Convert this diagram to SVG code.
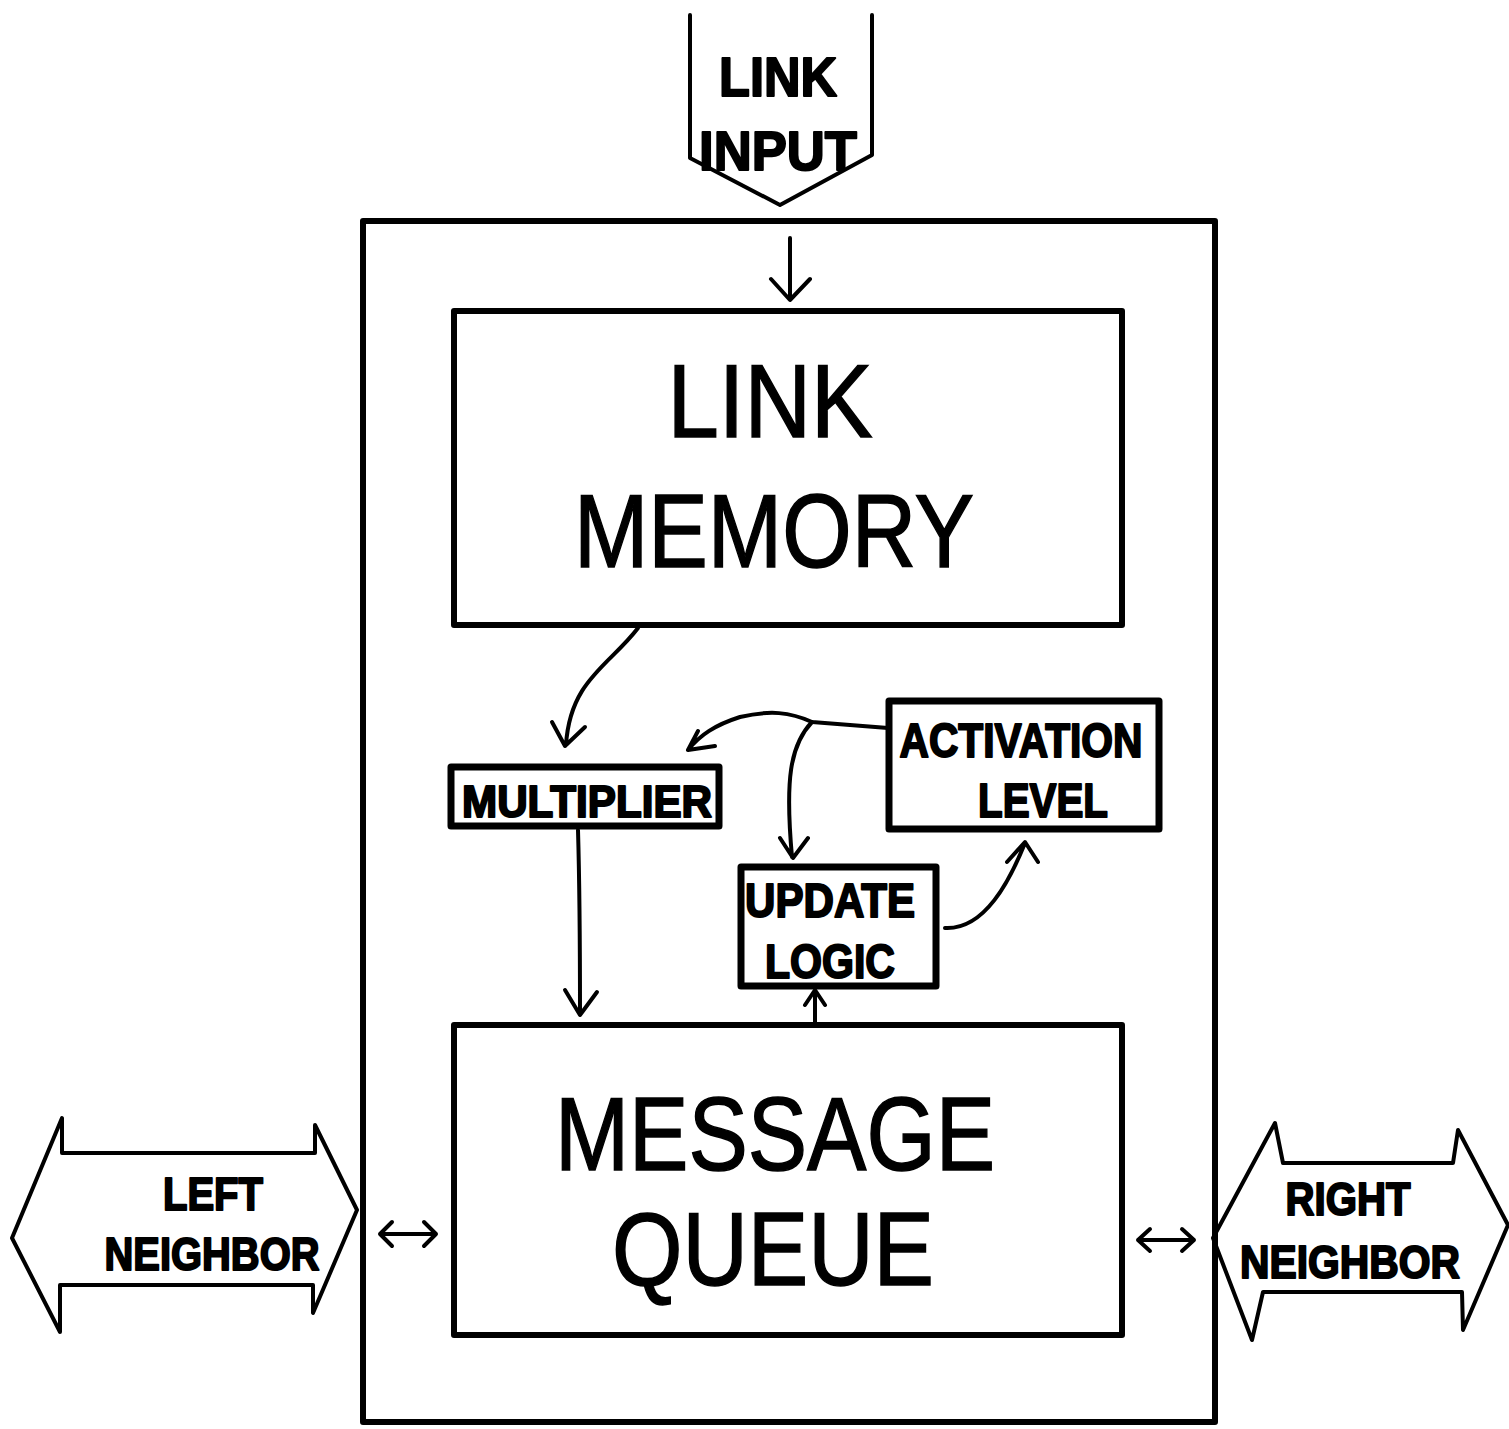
<svg xmlns="http://www.w3.org/2000/svg" width="1509" height="1429" viewBox="0 0 1509 1429">
<style>
.box{fill:none;stroke:#000;stroke-width:6;stroke-linejoin:round}
.sm{fill:none;stroke:#000;stroke-width:7;stroke-linejoin:round}
.ln{fill:none;stroke:#000;stroke-width:4;stroke-linecap:round;stroke-linejoin:round}
.big{font-family:"Liberation Sans",Arial,sans-serif;font-size:104px;fill:#000;stroke:#000;stroke-width:1.5;text-anchor:middle}
.bold{font-family:"Liberation Sans",Arial,sans-serif;font-weight:bold;fill:#000;stroke:#000;stroke-width:2;stroke-linejoin:round;text-anchor:middle}
</style>
<rect width="1509" height="1429" fill="#fff"/>
<g id="container"><rect class="box" x="363" y="221" width="852" height="1201"/></g>
<g id="link-input">
<path class="ln" d="M690,15 V158 L780,205 L872,155 V15"/>
<text class="bold" x="778" y="96" font-size="56" textLength="118" lengthAdjust="spacingAndGlyphs">LINK</text>
<text class="bold" x="778" y="170" font-size="56" textLength="158" lengthAdjust="spacingAndGlyphs">INPUT</text>
</g>
<g id="link-memory">
<rect class="box" x="454" y="311" width="668" height="314"/>
<text class="big" x="770" y="437" textLength="205" lengthAdjust="spacingAndGlyphs">LINK</text>
<text class="big" x="774" y="567" textLength="400" lengthAdjust="spacingAndGlyphs">MEMORY</text>
</g>
<g id="message-queue">
<rect class="box" x="454" y="1025" width="668" height="310"/>
<text class="big" x="775" y="1170" textLength="440" lengthAdjust="spacingAndGlyphs">MESSAGE</text>
<text class="big" x="773" y="1285" textLength="322" lengthAdjust="spacingAndGlyphs">QUEUE</text>
</g>
<g id="multiplier">
<rect class="sm" x="451" y="767" width="268" height="59"/>
<text class="bold" x="587" y="817" font-size="44" textLength="250" lengthAdjust="spacingAndGlyphs">MULTIPLIER</text>
</g>
<g id="activation-level">
<rect class="sm" x="889" y="701" width="270" height="128"/>
<text class="bold" x="1021" y="757" font-size="48" textLength="243" lengthAdjust="spacingAndGlyphs">ACTIVATION</text>
<text class="bold" x="1043" y="817" font-size="48" textLength="130" lengthAdjust="spacingAndGlyphs">LEVEL</text>
</g>
<g id="update-logic">
<rect class="sm" x="741" y="867" width="195" height="119"/>
<text class="bold" x="830" y="917" font-size="48" textLength="170" lengthAdjust="spacingAndGlyphs">UPDATE</text>
<text class="bold" x="830" y="978" font-size="48" textLength="130" lengthAdjust="spacingAndGlyphs">LOGIC</text>
</g>
<g id="left-neighbor">
<path class="ln" d="M12,1238 L62,1118 L62,1153 L315,1153 L315,1125 L357,1210 L313,1313 L313,1285 L60,1285 L60,1332 Z"/>
<text class="bold" x="213" y="1210" font-size="46" textLength="100" lengthAdjust="spacingAndGlyphs">LEFT</text>
<text class="bold" x="212" y="1270" font-size="46" textLength="215" lengthAdjust="spacingAndGlyphs">NEIGHBOR</text>
</g>
<g id="right-neighbor">
<path class="ln" d="M1213,1238 L1275,1123 L1283,1163 L1453,1163 L1458,1130 L1508,1225 L1463,1330 L1462,1292 L1263,1292 L1252,1340 Z"/>
<text class="bold" x="1348" y="1215" font-size="46" textLength="125" lengthAdjust="spacingAndGlyphs">RIGHT</text>
<text class="bold" x="1350" y="1278" font-size="46" textLength="220" lengthAdjust="spacingAndGlyphs">NEIGHBOR</text>
</g>
<g id="connectors">
<path class="ln" d="M790,238 V299 M771,279 L790,300 L810,279"/>
<path class="ln" d="M638,628 C610,665 570,680 566,745 M552,722 L565,746 L585,727"/>
<path class="ln" d="M578,830 C580,900 580,960 580,1013 M565,990 L580,1015 L597,992"/>
<path class="ln" d="M888,728 L812,722 C790,712 770,710 740,717 C715,725 700,735 688,750 M688,750 L715,746 M688,750 L698,731"/>
<path class="ln" d="M812,722 C790,745 785,780 792,857 M780,838 L793,858 L808,838"/>
<path class="ln" d="M945,928 C985,930 1010,880 1025,843 M1007,862 L1025,842 L1038,862"/>
<path class="ln" d="M815,1022 V992 M805,1005 L815,990 L825,1005"/>
<path class="ln" d="M380,1234 H436 M392,1222 L380,1234 L392,1246 M424,1222 L436,1234 L424,1246"/>
<path class="ln" d="M1138,1240 H1194 M1150,1229 L1138,1240 L1150,1251 M1182,1229 L1194,1240 L1182,1251"/>
</g>
</svg>
